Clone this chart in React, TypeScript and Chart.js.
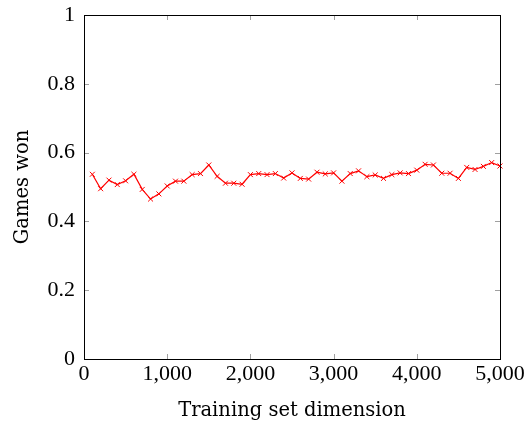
import React, { useEffect, useRef } from "react";
import { Chart, registerables } from "chart.js";

Chart.register(...registerables);

const trainingSizes = [
  100, 200, 300, 400, 500, 600, 700, 800, 900, 1000,
  1100, 1200, 1300, 1400, 1500, 1600, 1700, 1800, 1900, 2000,
  2100, 2200, 2300, 2400, 2500, 2600, 2700, 2800, 2900, 3000,
  3100, 3200, 3300, 3400, 3500, 3600, 3700, 3800, 3900, 4000,
  4100, 4200, 4300, 4400, 4500, 4600, 4700, 4800, 4900, 5000,
];
const gamesWon = [
  0.537, 0.495, 0.52, 0.507, 0.518, 0.537, 0.493, 0.465, 0.48, 0.503,
  0.517, 0.517, 0.536, 0.539, 0.564, 0.531, 0.511, 0.511, 0.508, 0.536,
  0.539, 0.536, 0.539, 0.526, 0.541, 0.525, 0.523, 0.543, 0.538, 0.541,
  0.517, 0.539, 0.547, 0.53, 0.535, 0.525, 0.536, 0.541, 0.539, 0.549,
  0.566, 0.564, 0.54, 0.54, 0.525, 0.557, 0.551, 0.56, 0.571, 0.561,
];
const xTicks = [0, 1000, 2000, 3000, 4000, 5000];
const yTicks = [0, 0.2, 0.4, 0.6, 0.8, 1];

const TICK_FONT = "'Liberation Serif', 'DejaVu Serif', serif";
const TITLE_FONT = "'DejaVu Serif', 'Liberation Serif', serif";

const frame = {
  id: "frame",
  afterDatasetsDraw(chart: any) {
    const { ctx, chartArea: a, scales } = chart;
    ctx.save();
    ctx.strokeStyle = "#a0a0a0";
    ctx.lineWidth = 1;
    const L = 5;
    for (const v of xTicks) {
      const px = Math.round(scales.x.getPixelForValue(v)) + 0.5;
      ctx.beginPath();
      ctx.moveTo(px, a.bottom);
      ctx.lineTo(px, a.bottom - L);
      ctx.moveTo(px, a.top);
      ctx.lineTo(px, a.top + L);
      ctx.stroke();
    }
    for (const v of yTicks) {
      const py = Math.round(scales.y.getPixelForValue(v)) + 0.5;
      ctx.beginPath();
      ctx.moveTo(a.left, py);
      ctx.lineTo(a.left + L, py);
      ctx.moveTo(a.right, py);
      ctx.lineTo(a.right - L, py);
      ctx.stroke();
    }
    ctx.strokeStyle = "#000";
    ctx.strokeRect(
      Math.round(a.left) + 0.5,
      Math.round(a.top) + 0.5,
      Math.round(a.right - a.left),
      Math.round(a.bottom - a.top)
    );
    ctx.restore();
  },
};

export default function App() {
  const ref = useRef<HTMLCanvasElement>(null);
  useEffect(() => {
    const chart = new Chart(ref.current!, {
      type: "line",
      data: {
        datasets: [
          {
            data: trainingSizes.map((x, i) => ({ x, y: gamesWon[i] })),
            borderColor: "#ff0000",
            backgroundColor: "#ff0000",
            borderWidth: 1.2,
            pointStyle: "crossRot",
            pointRadius: 3.5,
            pointBorderWidth: 1,
            pointBorderColor: "#ff0000",
            tension: 0,
            clip: false,
          } as any,
        ],
      },
      plugins: [frame],
      options: {
        animation: false,
        responsive: false,
        maintainAspectRatio: false,
        layout: { padding: { left: 0, right: 29, top: 15, bottom: 0 } },
        plugins: { legend: { display: false }, tooltip: { enabled: false } },
        scales: {
          x: {
            type: "linear",
            min: 0,
            max: 5000,
            afterFit: (s: any) => {
              s.height = 71;
              s.paddingLeft = 0;
              s.paddingRight = 0;
            },
            afterBuildTicks: (s: any) => {
              s.ticks = xTicks.map((v) => ({ value: v }));
            },
            grid: { display: false, drawTicks: false },
            border: { display: false },
            ticks: {
              padding: 2,
              color: "#000",
              font: { family: TICK_FONT, size: 22 },
              maxRotation: 0,
              callback: (v: any) => Number(v).toLocaleString("en-US"),
            },
            title: {
              display: true,
              text: "Training set dimension",
              color: "#000",
              font: { family: TITLE_FONT, size: 19.5 },
              padding: { top: 0, bottom: 7 },
            },
          },
          y: {
            type: "linear",
            min: 0,
            max: 1,
            afterFit: (s: any) => {
              s.width = 84;
              s.paddingTop = 0;
              s.paddingBottom = 0;
            },
            afterBuildTicks: (s: any) => {
              s.ticks = yTicks.map((v) => ({ value: v }));
            },
            grid: { display: false, drawTicks: false },
            border: { display: false },
            ticks: {
              padding: 9,
              color: "#000",
              font: { family: TICK_FONT, size: 22 },
              callback: (v: any) => String(Number(v)),
            },
            title: {
              display: true,
              text: "Games won",
              color: "#000",
              font: { family: TITLE_FONT, size: 19.5 },
              padding: { top: 11, bottom: 0 },
            },
          },
        },
      },
    });
    return () => chart.destroy();
  }, []);
  return (
    <div style={{ position: "fixed", left: 0, top: 0, width: 529, height: 430, background: "#fff" }}>
      <canvas ref={ref} width={529} height={430} style={{ width: 529, height: 430 }} />
    </div>
  );
}
